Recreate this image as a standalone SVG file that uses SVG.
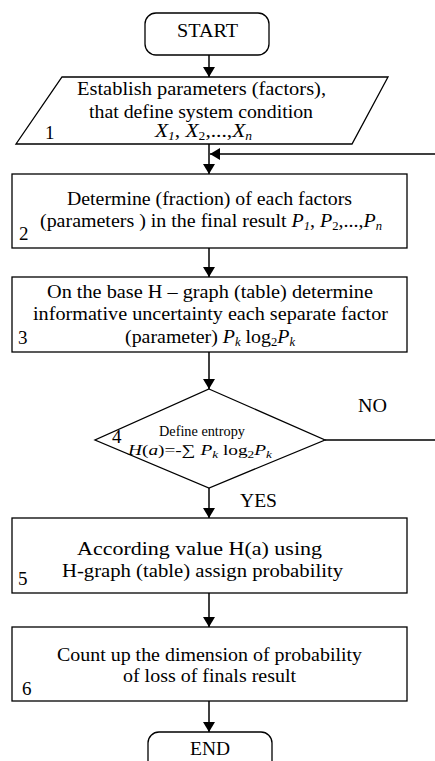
<svg xmlns="http://www.w3.org/2000/svg" width="435" height="761" viewBox="0 0 435 761">
<style>
.s{fill:#fff;stroke:#000;stroke-width:1.3}
.c{fill:none;stroke:#000;stroke-width:1.5}
text{font-family:"Liberation Serif","Times New Roman",serif;font-size:19px;fill:#000}
.m{text-anchor:middle}
.d{font-size:14.5px}
.i{font-style:italic}
.sb{font-size:12px}
.sd{font-size:10px}
</style>
<defs>
<marker id="a" viewBox="0 0 10 12" refX="10" refY="6" markerWidth="10" markerHeight="12" markerUnits="userSpaceOnUse" orient="auto">
<path d="M0,0 L10,6 L0,12 Z" fill="#000"/>
</marker>
</defs>
<g id="connectors">
<line class="c" x1="209" y1="55" x2="209" y2="77" marker-end="url(#a)"/>
<line class="c" x1="209" y1="144" x2="209" y2="174" marker-end="url(#a)"/>
<path class="c" d="M325,440 H437 V154 H210" marker-end="url(#a)"/>
<line class="c" x1="209" y1="248" x2="209" y2="277" marker-end="url(#a)"/>
<line class="c" x1="209" y1="352" x2="209" y2="389" marker-end="url(#a)"/>
<line class="c" x1="209" y1="488" x2="209" y2="518" marker-end="url(#a)"/>
<line class="c" x1="209" y1="593" x2="209" y2="627" marker-end="url(#a)"/>
<line class="c" x1="209" y1="701" x2="209" y2="732" marker-end="url(#a)"/>
<text x="358" y="412" textLength="29" lengthAdjust="spacingAndGlyphs">NO</text>
<text x="240" y="507" textLength="37" lengthAdjust="spacingAndGlyphs">YES</text>
</g>
<g id="start">
<rect class="s" x="145" y="13" width="124" height="42" rx="11"/>
<text x="177" y="37" textLength="61" lengthAdjust="spacingAndGlyphs">START</text>
</g>
<g id="n1">
<polygon class="s" points="62,77 388,77 352,144 16,144"/>
<text x="77" y="95" textLength="249" lengthAdjust="spacingAndGlyphs">Establish parameters  (factors),</text>
<text x="89" y="118" textLength="224" lengthAdjust="spacingAndGlyphs">that define system condition</text>
<text x="45" y="139">1</text>
<text x="155" y="137" textLength="97" lengthAdjust="spacingAndGlyphs"><tspan class="i">X</tspan><tspan class="i sb" dy="3">1</tspan><tspan dy="-3">, </tspan><tspan class="i">X</tspan><tspan class="sb" dy="3">2</tspan><tspan dy="-3">,...,</tspan><tspan class="i">X</tspan><tspan class="i sb" dy="3">n</tspan></text>
</g>
<g id="n2">
<rect class="s" x="12" y="174" width="395" height="74"/>
<text x="67" y="205" textLength="285" lengthAdjust="spacingAndGlyphs">Determine (fraction) of each factors</text>
<text x="40" y="227" textLength="342" lengthAdjust="spacingAndGlyphs">(parameters ) in the final result <tspan class="i">P</tspan><tspan class="i sb" dy="3">1</tspan><tspan dy="-3">, </tspan><tspan class="i">P</tspan><tspan class="sb" dy="3">2</tspan><tspan dy="-3">,...,</tspan><tspan class="i">P</tspan><tspan class="i sb" dy="3">n</tspan></text>
<text x="19" y="240">2</text>
</g>
<g id="n3">
<rect class="s" x="12" y="277" width="395" height="75"/>
<text x="47" y="298" textLength="326" lengthAdjust="spacingAndGlyphs">On the base H – graph  (table) determine</text>
<text x="33" y="320" textLength="355" lengthAdjust="spacingAndGlyphs">informative uncertainty  each separate factor</text>
<text x="125" y="343" textLength="170" lengthAdjust="spacingAndGlyphs">(parameter) <tspan class="i">P</tspan><tspan class="i sb" dy="3">k</tspan><tspan dy="-3"> log</tspan><tspan class="sb" dy="3">2</tspan><tspan class="i" dy="-3">P</tspan><tspan class="i sb" dy="3">k</tspan></text>
<text x="18" y="344">3</text>
</g>
<g id="n4">
<polygon class="s" points="209,389 325,440 209,488 95,440"/>
<text class="d" x="159" y="436" textLength="86" lengthAdjust="spacingAndGlyphs">Define entropy</text>
<text class="d" x="128" y="455" textLength="144" lengthAdjust="spacingAndGlyphs"><tspan class="i">H</tspan>(<tspan class="i">a</tspan>)=-∑ <tspan class="i">P</tspan><tspan class="i sd" dy="3">k</tspan><tspan dy="-3"> log</tspan><tspan class="sd" dy="3">2</tspan><tspan class="i" dy="-3">P</tspan><tspan class="i sd" dy="3">k</tspan></text>
<text x="112" y="443">4</text>
</g>
<g id="n5">
<rect class="s" x="12" y="518" width="395" height="75"/>
<text x="77" y="555" textLength="245" lengthAdjust="spacingAndGlyphs">According value H(a) using</text>
<text x="62" y="577" textLength="281" lengthAdjust="spacingAndGlyphs">H-graph (table) assign probability</text>
<text x="18" y="585">5</text>
</g>
<g id="n6">
<rect class="s" x="12" y="627" width="395" height="74"/>
<text x="57" y="661" textLength="305" lengthAdjust="spacingAndGlyphs">Count up the dimension of probability</text>
<text x="123" y="682" textLength="173" lengthAdjust="spacingAndGlyphs">of loss of finals result</text>
<text x="22" y="695">6</text>
</g>
<g id="end">
<rect class="s" x="148" y="732" width="124" height="40" rx="11"/>
<text x="190" y="755" textLength="40" lengthAdjust="spacingAndGlyphs">END</text>
</g>
</svg>
